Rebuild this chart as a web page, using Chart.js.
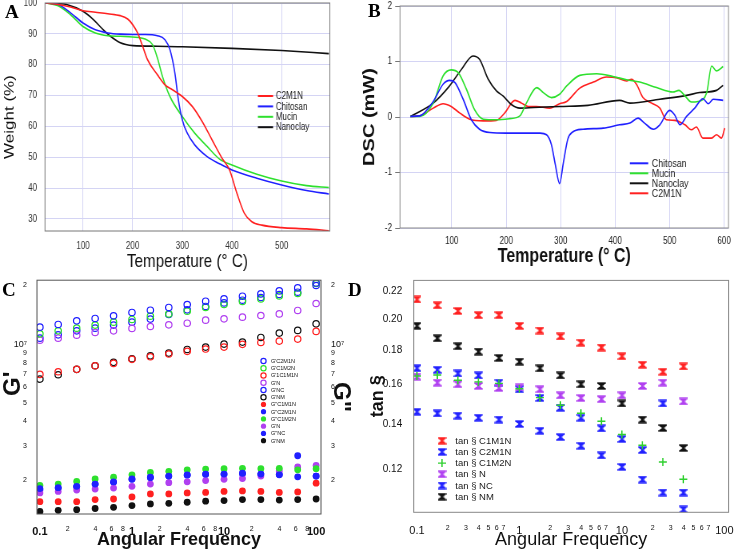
<!DOCTYPE html>
<html lang="en">
<head>
<meta charset="UTF-8" />
<title>TGA, DSC and rheology</title>
<script src="https://cdn.jsdelivr.net/npm/chart.js"></script>
<style>
  body { margin: 0; background: #fff; width: 734px; height: 550px; position: relative; overflow: hidden; }
  .panel { position: absolute; height: 275px; }
  .panel canvas { position: absolute; left: 0; top: 0; }
  .tag { position: absolute; font-family: "Liberation Serif", "Times New Roman", serif; font-weight: bold; font-size: 19px; line-height: 1; color: #000; }
</style>
</head>
<body>
  <div class="panel" style="left:0;top:0;width:367px"><canvas id="chartA" width="459" height="275" style="width:367px;height:275px"></canvas></div>
  <div class="panel" style="left:359px;top:0;width:375px"><canvas id="chartB" width="469" height="275" style="width:375px;height:275px"></canvas></div>
  <div class="panel" style="left:0;top:275px;width:367px"><canvas id="chartC" width="367" height="275" style="width:367px;height:275px"></canvas></div>
  <div class="panel" style="left:367px;top:275px;width:367px"><canvas id="chartD" width="367" height="275" style="width:367px;height:275px"></canvas></div>
  <div class="tag" style="left:5px;top:2px">A</div>
  <div class="tag" style="left:368px;top:1px">B</div>
  <div class="tag" style="left:2px;top:280px">C</div>
  <div class="tag" style="left:348px;top:280px">D</div>

<script>
// ---- A: TGA (weight % vs temperature) ----
const tgaC2M1N_T = [25, 50, 75, 100, 125, 150, 175, 190, 200, 210, 220, 230, 250, 265, 280, 300, 320, 340, 360, 380, 395, 410, 425, 440, 460, 500, 550, 595];
const tgaC2M1N_W = [100, 99.5, 98.7, 97.5, 97.0, 96.5, 95.9, 94.8, 93.0, 90.3, 86.0, 81.6, 76.7, 73.5, 71.9, 69.7, 66.5, 61.6, 55.6, 49.7, 45.9, 38.3, 31.8, 29.1, 28.0, 27.2, 26.8, 26.2];
const tgaChitosan_T = [25, 50, 75, 100, 125, 150, 175, 200, 225, 250, 265, 275, 285, 292, 300, 310, 325, 350, 375, 400, 450, 500, 550, 595];
const tgaChitosan_W = [100, 99.5, 96.8, 93.5, 91.3, 90.3, 89.9, 89.8, 89.8, 89.4, 88.1, 84.9, 77.3, 68.6, 62.1, 57.8, 54.0, 50.2, 47.9, 45.9, 43.2, 41.0, 39.2, 38.1];
const tgaMucin_T = [25, 50, 75, 100, 125, 150, 175, 200, 225, 240, 250, 260, 275, 300, 325, 350, 375, 400, 450, 500, 550, 595];
const tgaMucin_W = [100, 99.1, 96.2, 92.4, 90.3, 89.4, 89.2, 89.0, 88.3, 86.5, 82.1, 76.2, 69.7, 63.2, 57.8, 53.5, 49.4, 47.5, 44.5, 42.3, 40.8, 40.2];
const tgaNanoclay_T = [25, 50, 67, 100, 121, 141, 154, 174, 201, 250, 300, 400, 500, 595];
const tgaNanoclay_W = [100, 99.8, 99.5, 97.3, 94.6, 91.3, 89.4, 87.2, 86.2, 86.0, 85.8, 85.3, 84.6, 83.6];
const tgaXTicks = [100, 200, 300, 400, 500];
const tgaYTicks = [30, 40, 50, 60, 70, 80, 90, 100];

// ---- B: DSC (mW vs temperature) ----
const dscChitosan_T = [24, 41, 66, 84, 96, 106, 121, 136, 151, 170, 200, 262, 274, 283, 290, 298, 305, 313, 322, 341, 378, 408, 427, 442, 454, 470, 482, 500, 509, 519, 531, 546, 561, 571, 580, 598];
const dscChitosan_Y = [0.01, 0.02, 0.28, 0.59, 0.66, 0.62, 0.32, -0.05, -0.22, -0.28, -0.29, -0.29, -0.32, -0.5, -0.85, -1.2, -0.82, -0.4, -0.27, -0.22, -0.20, -0.14, -0.11, -0.02, -0.11, -0.22, -0.14, 0.12, 0.04, -0.14, 0.01, 0.16, 0.33, 0.24, 0.32, 0.30];
const dscMucin_T = [24, 41, 66, 84, 99, 112, 127, 142, 158, 182, 206, 225, 237, 256, 268, 283, 298, 311, 335, 366, 396, 421, 445, 476, 506, 517, 528, 540, 552, 568, 577, 586, 598];
const dscMucin_Y = [0.01, 0.01, 0.25, 0.74, 0.85, 0.80, 0.50, 0.13, -0.04, -0.05, -0.03, 0.02, 0.25, 0.53, 0.44, 0.35, 0.41, 0.56, 0.75, 0.78, 0.73, 0.67, 0.63, 0.53, 0.45, 0.48, 0.38, 0.27, 0.28, 0.44, 0.92, 0.83, 0.91];
const dscNanoclay_T = [24, 66, 96, 118, 139, 151, 167, 182, 194, 210, 225, 250, 298, 350, 408, 427, 482, 531, 555, 586, 598];
const dscNanoclay_Y = [0.01, 0.25, 0.56, 0.86, 1.10, 1.04, 0.68, 0.47, 0.38, 0.22, 0.16, 0.17, 0.19, 0.21, 0.30, 0.25, 0.32, 0.39, 0.44, 0.48, 0.57];
const dscC2M1N_T = [24, 41, 66, 84, 99, 115, 133, 158, 182, 197, 216, 228, 240, 255, 280, 298, 311, 335, 360, 384, 402, 421, 430, 439, 451, 467, 482, 494, 509, 528, 540, 549, 561, 577, 586, 595, 601];
const dscC2M1N_Y = [0.01, 0.02, 0.16, 0.24, 0.19, 0.07, -0.04, -0.07, -0.06, 0.07, 0.30, 0.25, 0.19, 0.19, 0.16, 0.24, 0.28, 0.52, 0.63, 0.72, 0.71, 0.65, 0.68, 0.59, 0.35, 0.25, 0.16, -0.05, -0.06, -0.14, -0.23, -0.18, -0.38, -0.38, -0.32, -0.38, -0.20];
const dscXTicks = [100, 200, 300, 400, 500, 600];
const dscYTicks = [-2, -1, 0, 1, 2];

// ---- C: G' (open) and G'' (filled) vs angular frequency, Pa ----
const freqC = [0.1, 0.158, 0.251, 0.398, 0.631, 1, 1.585, 2.512, 3.981, 6.31, 10, 15.85, 25.12, 39.81, 63.1, 100];
const gpC2M1N = [1.222e7, 1.262e7, 1.317e7, 1.355e7, 1.397e7, 1.454e7, 1.494e7, 1.543e7, 1.598e7, 1.661e7, 1.707e7, 1.763e7, 1.811e7, 1.877e7, 1.944e7, 2.063e7];
const gpC1M2N = [1.129e7, 1.170e7, 1.208e7, 1.252e7, 1.297e7, 1.339e7, 1.392e7, 1.430e7, 1.476e7, 1.543e7, 1.598e7, 1.656e7, 1.707e7, 1.769e7, 1.820e7, 2.048e7];
const gpC1M1N = [0.699e7, 0.721e7, 0.742e7, 0.774e7, 0.796e7, 0.835e7, 0.861e7, 0.889e7, 0.918e7, 0.943e7, 0.965e7, 0.997e7, 1.020e7, 1.036e7, 1.061e7, 1.162e7];
const gpN = [1.048e7, 1.073e7, 1.112e7, 1.148e7, 1.170e7, 1.204e7, 1.232e7, 1.256e7, 1.281e7, 1.328e7, 1.348e7, 1.376e7, 1.403e7, 1.430e7, 1.489e7, 1.617e7];
const gpNC = [1.073e7, 1.116e7, 1.170e7, 1.208e7, 1.252e7, 1.297e7, 1.344e7, 1.420e7, 1.500e7, 1.561e7, 1.628e7, 1.681e7, 1.736e7, 1.798e7, 1.848e7, 2.000e7];
const gpNM = [0.661e7, 0.696e7, 0.742e7, 0.774e7, 0.806e7, 0.841e7, 0.871e7, 0.899e7, 0.939e7, 0.965e7, 1.000e7, 1.024e7, 1.082e7, 1.139e7, 1.176e7, 1.271e7];
const gppC1M1N = [1.55e6, 1.55e6, 1.55e6, 1.59e6, 1.60e6, 1.64e6, 1.70e6, 1.70e6, 1.72e6, 1.73e6, 1.75e6, 1.76e6, 1.75e6, 1.73e6, 1.74e6, 1.93e6];
const gppC2M1N = [1.81e6, 1.83e6, 1.86e6, 1.91e6, 1.96e6, 2.03e6, 2.07e6, 2.10e6, 2.13e6, 2.15e6, 2.15e6, 2.17e6, 2.15e6, 2.13e6, 2.67e6, 2.10e6];
const gppC1M2N = [1.88e6, 1.91e6, 1.97e6, 2.03e6, 2.07e6, 2.13e6, 2.19e6, 2.22e6, 2.26e6, 2.28e6, 2.29e6, 2.30e6, 2.29e6, 2.30e6, 2.26e6, 2.29e6];
const gppN = [1.72e6, 1.75e6, 1.78e6, 1.80e6, 1.82e6, 1.86e6, 1.91e6, 1.94e6, 1.96e6, 1.99e6, 2.02e6, 2.04e6, 2.10e6, 2.23e6, 2.34e6, 2.38e6];
const gppNC = [1.78e6, 1.82e6, 1.85e6, 1.91e6, 1.95e6, 2.02e6, 2.06e6, 2.10e6, 2.12e6, 2.14e6, 2.15e6, 2.16e6, 2.15e6, 2.14e6, 2.08e6, 2.10e6];
const gppNM = [1.38e6, 1.40e6, 1.41e6, 1.43e6, 1.45e6, 1.48e6, 1.51e6, 1.52e6, 1.54e6, 1.56e6, 1.57e6, 1.59e6, 1.59e6, 1.58e6, 1.59e6, 1.60e6];
const modXTicks = [0.1, 0.2, 0.4, 0.6, 0.8, 1, 2, 4, 6, 8, 10, 20, 40, 60, 80, 100];
const modYTicks = [2e6, 3e6, 4e6, 5e6, 6e6, 7e6, 8e6, 9e6, 1e7, 2e7];

// ---- D: tan delta vs angular frequency ----
const freqD = [0.1, 0.158, 0.251, 0.398, 0.631, 1, 1.585, 2.512, 3.981, 6.31, 10, 15.85, 25.12, 39.81];
const tdC1M1N = [0.2137, 0.2095, 0.2055, 0.2026, 0.2026, 0.1954, 0.1923, 0.1885, 0.1845, 0.1815, 0.1762, 0.1712, 0.1672, 0.1702];
const tdC2M1N = [0.1459, 0.1451, 0.1440, 0.1430, 0.1421, 0.1400, 0.1368, 0.1339, 0.1300, 0.1258, 0.1210, 0.1159, 0.1109, 0.1047];
const tdC1M2N = [0.1648, 0.1653, 0.1624, 0.1615, 0.1607, 0.1578, 0.1531, 0.1492, 0.1452, 0.1413, 0.1351, 0.1302, 0.1230, 0.1160];
const tdN = [0.1644, 0.1611, 0.1602, 0.1593, 0.1582, 0.1585, 0.1575, 0.1543, 0.1529, 0.1523, 0.1543, 0.1593, 0.1611, 0.1511];
const tdNC = [0.1692, 0.1683, 0.1662, 0.1651, 0.1611, 0.1575, 0.1529, 0.1479, 0.1430, 0.1379, 0.1330, 0.1281, 0.1501, 0.1109];
const tdNM = [0.1954, 0.1873, 0.1823, 0.1790, 0.1752, 0.1730, 0.1691, 0.1651, 0.1602, 0.1593, 0.1501, 0.1421, 0.1381, 0.1290];
const tanXTicks = [0.1, 0.2, 0.3, 0.4, 0.5, 0.6, 0.7, 1, 2, 3, 4, 5, 6, 7, 10, 20, 30, 40, 50, 60, 70, 100];
const tanYTicks = [0.12, 0.14, 0.16, 0.18, 0.20, 0.22];

Chart.defaults.font.family = '"Liberation Sans", Arial, sans-serif';
Chart.defaults.color = '#111';
Chart.defaults.animation = false;
Chart.defaults.plugins.legend.display = false;
Chart.defaults.plugins.tooltip.enabled = false;

const RED = '#ff2020', BLUE = '#2020ff', GREEN = '#2ee02e', BLACK = '#111111', PURPLE = '#b040f0';
const GRID = '#d4d4f4';

// box around the plot area
const frame = {
  id: 'frame',
  afterDatasetsDraw(chart, args, o) {
    const { left, top, right, bottom } = chart.chartArea;
    const ctx = chart.ctx;
    ctx.save();
    ctx.strokeStyle = o.color;
    ctx.lineWidth = o.width;
    ctx.strokeRect(left, top, right - left, bottom - top);
    ctx.restore();
  }
};

// small legend drawn at a fixed place inside the plot
const miniLegend = {
  id: 'miniLegend',
  afterDraw(chart, args, o) {
    const ctx = chart.ctx;
    ctx.save();
    ctx.font = o.font;
    ctx.textBaseline = 'middle';
    chart.data.datasets.forEach((ds, i) => {
      const y = o.y + i * o.step;
      if (o.kind === 'line') {
        ctx.strokeStyle = ds.borderColor;
        ctx.lineWidth = 2;
        ctx.beginPath();
        ctx.moveTo(o.x, y);
        ctx.lineTo(o.x + o.len, y);
        ctx.stroke();
      } else {
        ctx.fillStyle = ds.backgroundColor;
        ctx.strokeStyle = ds.borderColor;
        ctx.lineWidth = ds.borderWidth;
        Chart.helpers.drawPoint(ctx, { pointStyle: ds.pointStyle, radius: o.radius || ds.pointRadius, borderWidth: ds.borderWidth, rotation: 0 }, o.x, y);
      }
      ctx.fillStyle = o.color;
      ctx.fillText(ds.label, o.textX, y + 0.5);
    });
    ctx.restore();
  }
};

function xy(xs, ys) {
  return xs.map((x, i) => ({ x: x, y: ys[i] }));
}

function fixTicks(list) {
  return scale => { scale.ticks = list.map(v => ({ value: v })); };
}

function fixWidth(w) {
  return s => { s.width = w; s.paddingTop = 0; s.paddingBottom = 0; };
}

function fixHeight(h) {
  return s => { s.height = h; s.paddingLeft = 0; s.paddingRight = 0; };
}

function isDecade(v) {
  const l = Math.log10(v);
  return Math.abs(l - Math.round(l)) < 1e-6;
}

function logLabel(v) {
  if (isDecade(v)) return String(+v.toPrecision(3));
  const e = Math.floor(Math.log10(v) + 1e-9);
  return String(Math.round(v / Math.pow(10, e)));
}

function curve(label, color, xs, ys) {
  return {
    label: label, data: xy(xs, ys), borderColor: color, backgroundColor: color,
    borderWidth: 1.6, pointRadius: 0, cubicInterpolationMode: 'monotone', fill: false
  };
}

// ---------- panel A ----------
new Chart(document.getElementById('chartA'), {
  type: 'line',
  data: {
    datasets: [
      curve('C2M1N', RED, tgaC2M1N_T, tgaC2M1N_W),
      curve('Chitosan', BLUE, tgaChitosan_T, tgaChitosan_W),
      curve('Mucin', GREEN, tgaMucin_T, tgaMucin_W),
      curve('Nanoclay', BLACK, tgaNanoclay_T, tgaNanoclay_W)
    ]
  },
  options: {
    responsive: false,
    devicePixelRatio: 1,
    layout: { padding: { left: 0, top: 3, right: 46.5, bottom: 0 } },
    scales: {
      x: {
        type: 'linear', min: 23.5, max: 597, bounds: 'data',
        afterBuildTicks: fixTicks(tgaXTicks), afterFit: fixHeight(44),
        grid: { color: GRID, drawTicks: false }, border: { display: false },
        ticks: { font: { size: 10 }, color: '#333', padding: 9, autoSkip: false, maxRotation: 0 },
        title: { display: true, text: 'Temperature (° C)', font: { size: 19, lineHeight: 1 }, color: '#111', padding: { top: 0, bottom: 3.5 } }
      },
      y: {
        type: 'linear', min: 26.1, max: 100, bounds: 'data',
        afterBuildTicks: fixTicks(tgaYTicks), afterFit: fixWidth(56.25),
        grid: { color: GRID, drawTicks: false }, border: { display: false },
        ticks: { font: { size: 10 }, color: '#333', padding: 10, autoSkip: false },
        title: { display: true, text: 'Weight (%)', font: { size: 17, lineHeight: 1 }, color: '#111', padding: { top: 4, bottom: 0 } }
      }
    },
    plugins: {
      frame: { color: '#777', width: 1 },
      miniLegend: { kind: 'line', x: 322.5, len: 19, textX: 345, y: 96, step: 10.4, font: '10px "Liberation Sans", Arial, sans-serif', color: '#222' }
    }
  },
  plugins: [frame, miniLegend]
});

// ---------- panel B ----------
new Chart(document.getElementById('chartB'), {
  type: 'line',
  data: {
    datasets: [
      curve('Chitosan', BLUE, dscChitosan_T, dscChitosan_Y),
      curve('Mucin', GREEN, dscMucin_T, dscMucin_Y),
      curve('Nanoclay', BLACK, dscNanoclay_T, dscNanoclay_Y),
      curve('C2M1N', RED, dscC2M1N_T, dscC2M1N_Y)
    ]
  },
  options: {
    responsive: false,
    devicePixelRatio: 1,
    layout: { padding: { left: 0, top: 6, right: 6.9, bottom: 0 } },
    scales: {
      x: {
        type: 'linear', min: 5, max: 608, bounds: 'data',
        afterBuildTicks: fixTicks(dscXTicks), afterFit: fixHeight(47),
        grid: { color: GRID, drawTicks: false }, border: { display: false },
        ticks: { font: { size: 10 }, color: '#222', padding: 7, autoSkip: false, maxRotation: 0 },
        title: { display: true, text: 'Temperature (° C)', font: { size: 20, weight: 'bold', lineHeight: 1 }, color: '#111', padding: { top: 0, bottom: 9 } }
      },
      y: {
        type: 'linear', min: -2, max: 2, bounds: 'data',
        afterBuildTicks: fixTicks(dscYTicks), afterFit: fixWidth(51.25),
        grid: { color: GRID, drawTicks: true, tickLength: 6, tickColor: '#777' }, border: { display: false },
        ticks: { font: { size: 10 }, color: '#222', padding: 4, autoSkip: false },
        title: { display: true, text: 'DSC (mW)', font: { size: 20, weight: 'bold', lineHeight: 1 }, color: '#111', padding: { top: 3.5, bottom: 0 } }
      }
    },
    plugins: {
      frame: { color: '#888', width: 1 },
      miniLegend: { kind: 'line', x: 338.75, len: 23, textX: 366.25, y: 163.3, step: 10, font: '11px "Liberation Sans", Arial, sans-serif', color: '#222' }
    }
  },
  plugins: [frame, miniLegend]
});

// ---------- panel C ----------
function openDot(label, color, ys) {
  return { label: label, data: xy(freqC, ys), borderColor: color, backgroundColor: 'rgba(0,0,0,0)', borderWidth: 1.2, pointRadius: 3.2, pointStyle: 'circle', yAxisID: 'y' };
}
function solidDot(label, color, ys) {
  return { label: label, data: xy(freqC, ys), borderColor: color, backgroundColor: color, borderWidth: 0, pointRadius: 3.4, pointStyle: 'circle', yAxisID: 'y2' };
}

const modYScale = {
  type: 'logarithmic', min: 1.34e6, max: 2.13e7, bounds: 'data',
  afterBuildTicks: fixTicks(modYTicks),
  grid: { display: false }, border: { display: false },
  ticks: {
    font: c => (c.tick && c.tick.value === 1e7 ? { size: 9 } : { size: 7 }),
    color: '#111', autoSkip: false,
    callback: v => (v === 1e7 ? '10⁷' : logLabel(v))
  }
};

new Chart(document.getElementById('chartC'), {
  type: 'scatter',
  data: {
    datasets: [
      openDot("G'C2M1N", BLUE, gpC2M1N),
      openDot("G'C1M2N", GREEN, gpC1M2N),
      openDot("G'1C1M1N", RED, gpC1M1N),
      openDot("G'N", PURPLE, gpN),
      openDot("G'NC", BLUE, gpNC),
      openDot("G'NM", BLACK, gpNM),
      solidDot('G"C1M1N', RED, gppC1M1N),
      solidDot('G"C2M1N', BLUE, gppC2M1N),
      solidDot('G"C1M2N', GREEN, gppC1M2N),
      solidDot("G'N", PURPLE, gppN),
      solidDot('G"NC', BLUE, gppNC),
      solidDot("G'NM", BLACK, gppNM)
    ]
  },
  options: {
    responsive: false,
    devicePixelRatio: 1,
    layout: { padding: { left: 0, top: 5, right: 0, bottom: 0 } },
    scales: {
      x: {
        type: 'logarithmic', min: 0.093, max: 113, bounds: 'data',
        afterBuildTicks: fixTicks(modXTicks), afterFit: fixHeight(36),
        grid: { display: false }, border: { display: false },
        ticks: {
          autoSkip: false, maxRotation: 0, padding: 3, color: '#111',
          font: c => (c.tick && isDecade(c.tick.value) ? { size: 11, weight: 'bold' } : { size: 7 }),
          callback: v => logLabel(v)
        },
        title: { display: true, text: 'Angular Frequency', font: { size: 18, weight: 'bold', lineHeight: 1 }, color: '#111', padding: { top: 0, bottom: 1 } }
      },
      y: Object.assign({}, modYScale, {
        position: 'left', afterFit: fixWidth(37),
        ticks: Object.assign({}, modYScale.ticks, { padding: 2 }),
        title: { display: true, text: "    G'", font: { size: 24, weight: 'bold', lineHeight: 1 }, color: '#111', padding: { top: 1, bottom: 0 } }
      }),
      y2: Object.assign({}, modYScale, {
        position: 'right', afterFit: fixWidth(46),
        ticks: Object.assign({}, modYScale.ticks, { padding: 2 }),
        title: { display: true, text: 'G"', font: { size: 24, weight: 'bold', lineHeight: 1 }, color: '#111', padding: { top: 14, bottom: 0 } }
      })
    },
    plugins: {
      frame: { color: '#555', width: 1 },
      miniLegend: { kind: 'point', x: 263.5, radius: 2.6, textX: 271, y: 86, step: 7.24, font: '5.5px "Liberation Sans", Arial, sans-serif', color: '#111' }
    }
  },
  plugins: [frame, miniLegend]
});

// ---------- panel D ----------
function hourglass(color) {
  const c = document.createElement('canvas');
  c.width = 9;
  c.height = 8;
  const g = c.getContext('2d');
  g.fillStyle = color;
  g.globalAlpha = 0.35;
  g.fillRect(0, 0, 9, 8);
  g.globalAlpha = 1;
  g.clearRect(0, 2, 2.5, 4);
  g.clearRect(6.5, 2, 2.5, 4);
  g.beginPath();
  g.moveTo(0.5, 0.5); g.lineTo(8.5, 0.5); g.lineTo(8.5, 1.8); g.lineTo(5.2, 4);
  g.lineTo(8.5, 6.2); g.lineTo(8.5, 7.5); g.lineTo(0.5, 7.5); g.lineTo(0.5, 6.2);
  g.lineTo(3.8, 4); g.lineTo(0.5, 1.8); g.closePath();
  g.fill();
  return c;
}
function tanSeries(label, color, ys) {
  return { label: label, data: xy(freqD, ys), borderColor: color, backgroundColor: color, borderWidth: 0, pointRadius: 4, pointStyle: hourglass(color) };
}

new Chart(document.getElementById('chartD'), {
  type: 'scatter',
  data: {
    datasets: [
      tanSeries('tan § C1M1N', RED, tdC1M1N),
      tanSeries('tan § C2M1N', BLUE, tdC2M1N),
      { label: 'tan § C1M2N', data: xy(freqD, tdC1M2N), borderColor: '#30d030', backgroundColor: '#30d030', borderWidth: 1.4, pointRadius: 4, pointStyle: 'cross' },
      tanSeries('tan § N', PURPLE, tdN),
      tanSeries('tan § NC', BLUE, tdNC),
      tanSeries('tan § NM', BLACK, tdNM)
    ]
  },
  options: {
    responsive: false,
    devicePixelRatio: 1,
    layout: { padding: { left: 0, top: 2.7, right: 4.3, bottom: 0 } },
    scales: {
      x: {
        type: 'logarithmic', min: 0.093, max: 110, bounds: 'data',
        afterBuildTicks: fixTicks(tanXTicks), afterFit: fixHeight(37.7),
        grid: { display: false }, border: { display: false },
        ticks: {
          autoSkip: false, maxRotation: 0, padding: 4, color: '#111',
          font: c => (c.tick && isDecade(c.tick.value) ? { size: 11 } : { size: 7 }),
          callback: v => logLabel(v)
        },
        title: { display: true, text: 'Angular Frequency', font: { size: 18, lineHeight: 1 }, color: '#111', padding: { top: 0, bottom: 0.5 } }
      },
      y: {
        type: 'logarithmic', min: 0.1037, max: 0.228, bounds: 'data',
        afterBuildTicks: fixTicks(tanYTicks), afterFit: fixWidth(46.7),
        grid: { display: false }, border: { display: false },
        ticks: { font: { size: 10 }, color: '#111', padding: 3.5, autoSkip: false, callback: v => v.toFixed(2) },
        title: { display: true, text: 'tan §', font: { size: 18, weight: 'bold', lineHeight: 1 }, color: '#111', padding: { top: 2, bottom: 0 } }
      }
    },
    plugins: {
      frame: { color: '#888', width: 1 },
      miniLegend: { kind: 'point', x: 75, textX: 88.3, y: 165.7, step: 11.2, font: '9.5px "Liberation Sans", Arial, sans-serif', color: '#222' }
    }
  },
  plugins: [frame, miniLegend]
});
</script>
</body>
</html>
